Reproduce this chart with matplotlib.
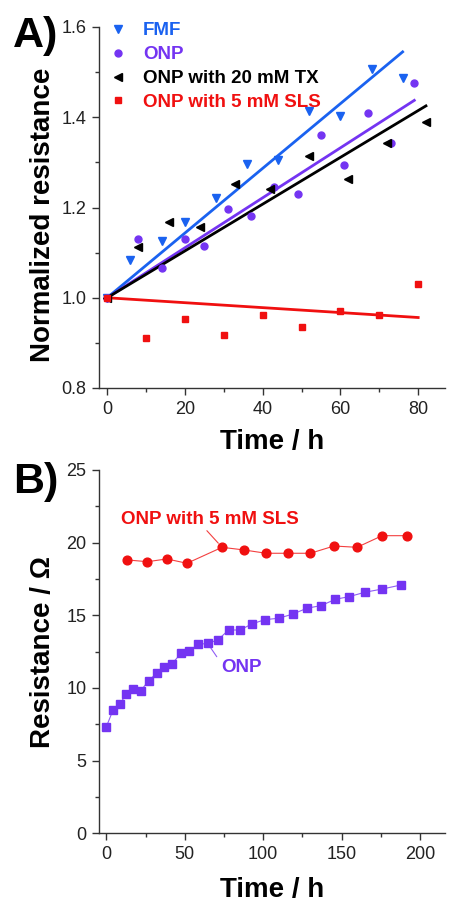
import matplotlib
matplotlib.use("Agg")
import matplotlib.pyplot as plt
import numpy as np

plt.rcParams['font.family'] = ['Liberation Sans', 'DejaVu Sans']

# Panel A: normalized resistance vs time
fmf_t = [0, 6, 14, 20, 28, 36, 44, 52, 60, 68, 76]
fmf_r = [1.0, 1.083, 1.126, 1.168, 1.221, 1.296, 1.306, 1.413, 1.402, 1.508, 1.487]

onp_t = [0, 8, 14, 20, 25, 31, 37, 43, 49, 55, 61, 67, 73, 79]
onp_r = [1.0, 1.131, 1.065, 1.131, 1.115, 1.196, 1.181, 1.245, 1.229, 1.36, 1.295,
         1.409, 1.344, 1.475]

tx_t = [0, 8, 16, 24, 33, 42, 52, 62, 72, 82]
tx_r = [1.0, 1.113, 1.168, 1.157, 1.252, 1.24, 1.314, 1.263, 1.344, 1.39]

sls_t = [0, 10, 20, 30, 40, 50, 60, 70, 80]
sls_r = [1.0, 0.911, 0.952, 0.918, 0.961, 0.935, 0.970, 0.961, 1.031]

# Panel B: resistance vs time
b_onp_t = [0, 4.3, 8.6, 12.8, 17.1, 22, 26.9, 32, 36.9, 41.8, 47.6, 52.9, 58.6, 64.6,
           71, 78, 85.3, 92.7, 101, 110, 119, 128, 137, 146, 155, 165, 176, 188]
b_onp_r = [7.34, 8.49, 8.9, 9.59, 9.93, 9.81, 10.5, 11.0, 11.42, 11.65, 12.39, 12.57,
           13.0, 13.07, 13.3, 13.99, 13.99, 14.4, 14.7, 14.8, 15.09, 15.49, 15.67,
           16.1, 16.29, 16.59, 16.81, 17.09]

b_sls_t = [13.4, 26.2, 38.6, 51.4, 73.8, 87.6, 101.9, 115.8, 130.1, 145.2, 159.9, 175.9, 191.9]
b_sls_r = [18.81, 18.69, 18.88, 18.58, 19.68, 19.5, 19.27, 19.27, 19.27, 19.77, 19.68,
           20.48, 20.48]

blue = '#1a62f0'
purple = '#7434f2'
red = '#f01010'
tick_col = '#222222'

fig = plt.figure(figsize=(4.52, 9.01), dpi=100)
W, H = 452, 901


def make_axes(left, top, right, bottom):
    return fig.add_axes([left / W, (H - bottom) / H, (right - left) / W, (bottom - top) / H])


def style(ax):
    for s in ['top', 'right']:
        ax.spines[s].set_visible(False)
    for s in ['left', 'bottom']:
        ax.spines[s].set_color('#333333')
        ax.spines[s].set_linewidth(1.0)
    ax.tick_params(which='major', direction='out', length=5, width=1, colors='#333333',
                   labelsize=13, labelcolor=tick_col, pad=4)
    ax.tick_params(which='minor', direction='out', length=3, width=1, colors='#333333')


def fit_through_one(t, r):
    t = np.asarray(t, float)
    r = np.asarray(r, float)
    k = np.sum(t * (r - 1)) / np.sum(t * t)
    xs = np.array([0, t.max()])
    return xs, 1 + k * xs


# ---- Panel A ----
axA = make_axes(99, 27, 445, 388)
style(axA)
series = [
    (fmf_t, fmf_r, blue, 'v', 5.5, 'FMF'),
    (onp_t, onp_r, purple, 'o', 5, 'ONP'),
    (tx_t, tx_r, 'black', '<', 5.5, 'ONP with 20 mM TX'),
    (sls_t, sls_r, red, 's', 4.6, 'ONP with 5 mM SLS'),
]
for t, r, c, m, ms, lab in series:
    xs, ys = fit_through_one(t, r)
    axA.plot(xs, ys, color=c, lw=2)
for t, r, c, m, ms, lab in series:
    axA.plot(t, r, ls='none', marker=m, ms=ms, color=c, mec=c, label=lab)

axA.set_xlim(-2.1, 86.9)
axA.set_ylim(0.8, 1.6)
axA.set_xticks([0, 20, 40, 60, 80])
axA.set_xticks([10, 30, 50, 70], minor=True)
axA.set_yticks([0.8, 1.0, 1.2, 1.4, 1.6])
axA.set_yticks([0.9, 1.1, 1.3, 1.5], minor=True)
axA.set_yticklabels(['0.8', '1.0', '1.2', '1.4', '1.6'])
axA.set_xlabel('Time / h', fontsize=20, fontweight='bold', labelpad=8)
axA.set_ylabel('Normalized resistance', fontsize=20, fontweight='bold')
axA.yaxis.set_label_coords(-0.125, 0.479)
axA.legend(loc='upper left', bbox_to_anchor=(0.028, 1.013), frameon=False,
           borderaxespad=0, borderpad=0, handlelength=1.0, handletextpad=0.83,
           labelspacing=0.36, prop={'size': 13.5, 'weight': 'bold'},
           labelcolor='markerfacecolor')
axA.text(-0.249, 0.945, 'A)', transform=axA.transAxes, fontsize=31, fontweight='bold',
         ha='left', va='baseline')

# ---- Panel B ----
axB = make_axes(99, 470, 445, 833.3)
style(axB)
axB.plot(b_sls_t, b_sls_r, color=red, lw=0.8, alpha=0.8)
axB.plot(b_sls_t, b_sls_r, ls='none', marker='o', ms=6.3, color=red)
axB.plot(b_onp_t, b_onp_r, color=purple, lw=0.8, alpha=0.8)
axB.plot(b_onp_t, b_onp_r, ls='none', marker='s', ms=5.4, color=purple)

axB.annotate('ONP with 5 mM SLS', xy=(b_sls_t[4], b_sls_r[4]), xytext=(9.2, 21.6),
             color=red, fontsize=13.5, fontweight='bold', va='center', ha='left',
             arrowprops=dict(arrowstyle='-', color=red, lw=0.8, alpha=0.8,
                             shrinkA=0, shrinkB=4, relpos=(0.47, 0.0)))
axB.annotate('ONP', xy=(b_onp_t[13], b_onp_r[13]), xytext=(73.2, 11.42),
             color=purple, fontsize=13.5, fontweight='bold', va='center', ha='left',
             arrowprops=dict(arrowstyle='-', color=purple, lw=0.8, alpha=0.8,
                             shrinkA=2, shrinkB=4, relpos=(0.0, 0.75)))

axB.set_xlim(-4.7, 216)
axB.set_ylim(0, 25)
axB.set_xticks([0, 50, 100, 150, 200])
axB.set_xticks([25, 75, 125, 175], minor=True)
axB.set_yticks([0, 5, 10, 15, 20, 25])
axB.set_yticks([2.5, 7.5, 12.5, 17.5, 22.5], minor=True)
axB.set_xlabel('Time / h', fontsize=20, fontweight='bold', labelpad=10)
axB.set_ylabel('Resistance / Ω', fontsize=20, fontweight='bold')
axB.yaxis.set_label_coords(-0.125, 0.5)
axB.text(-0.249, 0.937, 'B)', transform=axB.transAxes, fontsize=31, fontweight='bold',
         ha='left', va='baseline')

fig.savefig('out.png', dpi=100)
